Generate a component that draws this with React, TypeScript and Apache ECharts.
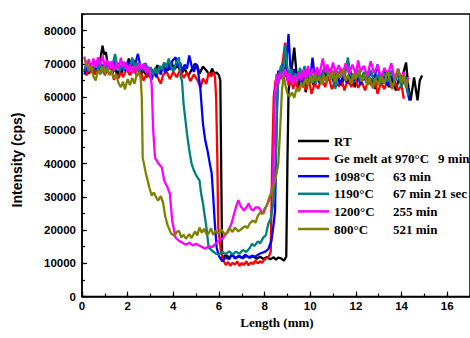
import React, { useEffect, useRef } from "react";
import * as echarts from "echarts";

const seriesNames = [
  "RT",
  "Ge melt at 970°C  9 min",
  "1098°C 63 min",
  "1190°C 67 min 21 sec",
  "1200°C 255 min",
  "800°C 521 min",
];
const legendTemps = ["", "", "1098°C", "1190°C", "1200°C", "800°C"];
const legendTimes = ["", "", "63 min", "67 min 21 sec", "255 min", "521 min"];
const seriesColors = ["#000000", "#ff0000", "#0000ff", "#008080", "#ff00ff", "#808000"];

const rtData = [
[0.1,67500],[0.2,69200],[0.3,67000],[0.4,68600],[0.5,66800],[0.6,69400],[0.7,68000],[0.8,71200],[0.9,75500],[0.97,72800],[1.05,73500],[1.15,68200],[1.25,69600],[1.35,67400],[1.45,68600],[1.55,66600],[1.65,69200],[1.75,67200],[1.85,70600],[1.95,68400],[2.05,71600],[2.15,69000],[2.25,71200],[2.35,67600],[2.45,69200],[2.55,66400],[2.7,68200],[2.85,66000],[3.0,68800],[3.15,67000],[3.3,69600],[3.45,67400],[3.6,70200],[3.75,68000],[3.9,70600],[4.05,68400],[4.2,69600],[4.35,67000],[4.5,68600],[4.65,66400],[4.8,68200],[4.95,70000],[5.05,69500],[5.15,67000],[5.3,69200],[5.45,68000],[5.6,66600],[5.7,68600],[5.8,67000],[5.9,67400],[6.0,66600],[6.06,65000],[6.1,38000],[6.14,11500],[6.3,12500],[6.45,11800],[6.6,12400],[6.75,11600],[6.9,12200],[7.05,11500],[7.2,12300],[7.35,11700],[7.5,12100],[7.65,11400],[7.8,12000],[7.95,11300],[8.1,11900],[8.25,11200],[8.4,11800],[8.5,11100],[8.6,11700],[8.7,11600],[8.85,10800],[8.95,12000],[9.0,40000],[9.05,62000],[9.15,66500],[9.3,74900],[9.4,67000],[9.5,63000],[9.6,65500],[9.7,68000],[9.8,61500],[9.9,64500],[10.0,66500],[10.15,63500],[10.3,67000],[10.45,64500],[10.6,68500],[10.75,65000],[10.9,67500],[11.05,64000],[11.2,66500],[11.35,63500],[11.5,66000],[11.65,64000],[11.8,67000],[11.95,63000],[12.1,66000],[12.25,64500],[12.4,67500],[12.55,64000],[12.7,65500],[12.85,62500],[13.0,66000],[13.15,64000],[13.3,68000],[13.45,63000],[13.6,65500],[13.75,62000],[13.9,66000],[14.05,66500],[14.2,70400],[14.3,63000],[14.4,59000],[14.55,65900],[14.7,59000],[14.8,65000],[14.9,66500]
];

const geMeltData = [
[0.1,68500],[0.2,66500],[0.3,69000],[0.4,67500],[0.5,68800],[0.6,66800],[0.7,69500],[0.8,67200],[0.9,68600],[1.0,66600],[1.1,68200],[1.2,66800],[1.3,67800],[1.4,65200],[1.5,67000],[1.6,65600],[1.7,67600],[1.8,66000],[1.95,68400],[2.1,66600],[2.25,68800],[2.4,66400],[2.55,67800],[2.7,65000],[2.85,67200],[3.0,65800],[3.15,68000],[3.3,66200],[3.45,64000],[3.55,66600],[3.7,67800],[3.85,65400],[4.0,67600],[4.15,66000],[4.3,68200],[4.45,65800],[4.6,67400],[4.75,64800],[4.9,66800],[5.05,65200],[5.2,62900],[5.3,65600],[5.45,64000],[5.55,67400],[5.65,66200],[5.75,67400],[5.83,66000],[5.88,59000],[5.93,40900],[5.97,20800],[6.08,13800],[6.2,10800],[6.3,9500],[6.4,10400],[6.5,9300],[6.6,10200],[6.7,9600],[6.8,10600],[6.9,9200],[7.0,10100],[7.1,9500],[7.2,10600],[7.3,9400],[7.4,10300],[7.5,9800],[7.6,10800],[7.7,10000],[7.8,10600],[7.9,10200],[8.0,11200],[8.1,11600],[8.2,12300],[8.27,13500],[8.33,40000],[8.4,60000],[8.48,65000],[8.55,63500],[8.65,66000],[8.75,68500],[8.82,72000],[8.9,76400],[8.97,69000],[9.05,63500],[9.15,65500],[9.25,62500],[9.35,64800],[9.5,61800],[9.65,64500],[9.8,62200],[9.95,65200],[10.05,61000],[10.2,64000],[10.35,62600],[10.5,65800],[10.65,63000],[10.8,66200],[10.95,62400],[11.1,65000],[11.25,63200],[11.4,64600],[11.5,62000],[11.65,65400],[11.8,63000],[11.95,66000],[12.1,62800],[12.25,64800],[12.4,62000],[12.55,65200],[12.7,63400],[12.85,64600],[12.95,61000],[13.1,64400],[13.25,62400],[13.4,65600],[13.55,62800],[13.7,64800],[13.85,62000],[14.0,63600],[14.1,59500]
];

const c1098Data = [
[0.1,66800],[0.2,69000],[0.3,67600],[0.4,70200],[0.5,68200],[0.6,69800],[0.7,67400],[0.8,70600],[0.9,68800],[1.0,70400],[1.1,67800],[1.2,69600],[1.3,68400],[1.4,71000],[1.5,68800],[1.6,70200],[1.7,67600],[1.8,69400],[1.9,68000],[2.0,70600],[2.1,68600],[2.2,71400],[2.3,69200],[2.45,73000],[2.55,69400],[2.65,67800],[2.75,70200],[2.85,68400],[2.95,66800],[3.05,65200],[3.15,67800],[3.25,66000],[3.35,68400],[3.45,66800],[3.55,69600],[3.65,67400],[3.75,70200],[3.85,68200],[3.95,70800],[4.1,72000],[4.2,68800],[4.3,70400],[4.4,67800],[4.5,69800],[4.6,68600],[4.7,72500],[4.8,69400],[4.9,67600],[5.0,70000],[5.08,68000],[5.18,62900],[5.3,52000],[5.4,47000],[5.5,43900],[5.6,40000],[5.68,37200],[5.75,30000],[5.82,22000],[5.9,14700],[6.0,12200],[6.15,10600],[6.3,11800],[6.45,11200],[6.57,12900],[6.7,11400],[6.85,12200],[7.0,11600],[7.15,12600],[7.3,11800],[7.45,12300],[7.6,12000],[7.75,12800],[7.9,13200],[8.05,13600],[8.17,14400],[8.3,16800],[8.4,22000],[8.46,25900],[8.52,50000],[8.6,68000],[8.7,65500],[8.8,70000],[8.9,66000],[8.97,72000],[9.05,79000],[9.12,70000],[9.2,65000],[9.3,68500],[9.4,64800],[9.5,67600],[9.6,63800],[9.7,66800],[9.8,64600],[9.9,68200],[10.0,65400],[10.1,71900],[10.2,66000],[10.3,68400],[10.4,64200],[10.55,67200],[10.7,64800],[10.85,68600],[11.0,65200],[11.15,67800],[11.3,63800],[11.45,66600],[11.6,64400],[11.75,68000],[11.9,65000],[12.05,67400],[12.2,63600],[12.35,66200],[12.5,64000],[12.65,67800],[12.8,65200],[12.95,69800],[13.1,64600],[13.25,67000],[13.4,63400],[13.55,66400],[13.7,64200],[13.85,68400],[14.0,64000],[14.15,66400],[14.25,62000],[14.35,59000]
];

const c1190Data = [
[0.1,68000],[0.2,70400],[0.3,67600],[0.4,69800],[0.5,68200],[0.6,70800],[0.7,68600],[0.8,69800],[0.9,67400],[1.0,70200],[1.1,68000],[1.2,70600],[1.3,68400],[1.45,73000],[1.55,69400],[1.65,67800],[1.75,70000],[1.85,68200],[1.95,69800],[2.05,67600],[2.2,71900],[2.3,68800],[2.4,70400],[2.5,67800],[2.6,69600],[2.7,68000],[2.8,70200],[2.9,67400],[3.0,69000],[3.1,66600],[3.2,68800],[3.3,67000],[3.4,69400],[3.5,68200],[3.6,70400],[3.7,68800],[3.8,71600],[3.9,69200],[4.0,67600],[4.1,70000],[4.25,72000],[4.32,66000],[4.38,65000],[4.45,58000],[4.6,49000],[4.7,44000],[4.8,40000],[4.9,38000],[5.0,36500],[5.15,34900],[5.22,31000],[5.3,28000],[5.45,20800],[5.55,14700],[5.7,13800],[5.85,13000],[6.0,12600],[6.15,13400],[6.3,12800],[6.45,13600],[6.6,12700],[6.75,13500],[6.9,12900],[7.05,14000],[7.2,13400],[7.35,14600],[7.45,15900],[7.55,15200],[7.7,16600],[7.8,16000],[7.95,17800],[8.05,18400],[8.17,22000],[8.27,23500],[8.4,28900],[8.48,40000],[8.55,60000],[8.62,66000],[8.72,69500],[8.8,67000],[8.9,75500],[8.98,70000],[9.05,66000],[9.15,68400],[9.25,64600],[9.35,67200],[9.45,65000],[9.55,68800],[9.65,66000],[9.75,69400],[9.85,65600],[9.95,67800],[10.05,64400],[10.15,66800],[10.25,64000],[10.35,67400],[10.5,65400],[10.65,69200],[10.8,66200],[10.95,68000],[11.1,62500],[11.2,66400],[11.35,68600],[11.5,65600],[11.65,71900],[11.75,67000],[11.9,65200],[12.05,68400],[12.2,64800],[12.35,67600],[12.5,65000],[12.65,68200],[12.8,64400],[12.95,66800],[13.1,63800],[13.25,67200],[13.4,64600],[13.55,68000],[13.7,65000],[13.85,66600],[14.0,63000],[14.15,66200],[14.3,60500]
];

const c1200Data = [
[0.1,72200],[0.2,69000],[0.3,71400],[0.4,68200],[0.5,71600],[0.6,68800],[0.7,72000],[0.8,69400],[0.9,72600],[1.0,69000],[1.1,71200],[1.2,68400],[1.3,70800],[1.4,67800],[1.5,70400],[1.6,68400],[1.7,71800],[1.8,69000],[1.9,70400],[2.0,67600],[2.1,69800],[2.2,67200],[2.3,69400],[2.4,67800],[2.5,70200],[2.6,68600],[2.7,70000],[2.8,67400],[2.9,69200],[2.98,66800],[3.05,64000],[3.12,50000],[3.2,41800],[3.35,40000],[3.5,38800],[3.6,34900],[3.75,32800],[3.85,31000],[3.95,22900],[4.1,17700],[4.25,16800],[4.4,16200],[4.55,15600],[4.7,16200],[4.85,15400],[5.0,15900],[5.15,15300],[5.3,14800],[5.4,14400],[5.55,15200],[5.7,14900],[5.85,15900],[6.0,16800],[6.15,17400],[6.3,18900],[6.4,19500],[6.55,22000],[6.65,24500],[6.75,27000],[6.85,29000],[6.95,27200],[7.1,25900],[7.2,26800],[7.3,28000],[7.4,26400],[7.5,25900],[7.6,26800],[7.75,26800],[7.85,25600],[7.95,25000],[8.05,26800],[8.2,29000],[8.3,31500],[8.37,35000],[8.45,60000],[8.52,67000],[8.6,64000],[8.7,67500],[8.8,65000],[8.9,68500],[9.0,64800],[9.1,67200],[9.2,63800],[9.3,66600],[9.4,64200],[9.5,67400],[9.6,65000],[9.7,68200],[9.8,65600],[9.9,69400],[10.0,66000],[10.1,68600],[10.2,65400],[10.3,69000],[10.4,66600],[10.55,71600],[10.65,67400],[10.75,69800],[10.85,66200],[11.0,70400],[11.1,67000],[11.25,69600],[11.4,66400],[11.55,70200],[11.7,67000],[11.85,69800],[12.0,66800],[12.1,71000],[12.2,67600],[12.35,69400],[12.5,66400],[12.65,70800],[12.8,67200],[12.95,69600],[13.1,65800],[13.25,68800],[13.4,66600],[13.55,70200],[13.7,65400],[13.85,68600],[14.0,64800],[14.1,67600],[14.2,63000],[14.3,66000]
];

const c800Data = [
[0.1,71600],[0.2,70400],[0.3,68000],[0.4,69600],[0.5,66200],[0.6,65000],[0.7,68400],[0.8,66800],[0.9,69200],[1.0,67000],[1.1,68600],[1.2,66600],[1.3,68000],[1.4,65600],[1.5,66800],[1.6,64200],[1.7,63000],[1.8,64600],[1.88,62300],[2.0,65400],[2.1,63600],[2.2,65800],[2.3,64000],[2.4,66800],[2.5,67400],[2.57,65800],[2.62,60000],[2.66,41800],[2.8,37000],[2.95,32800],[3.05,30400],[3.15,31300],[3.25,29800],[3.33,28900],[3.45,30200],[3.55,28300],[3.65,24000],[3.75,21500],[3.9,19000],[4.05,18300],[4.15,19400],[4.25,19800],[4.35,17800],[4.45,18600],[4.55,17400],[4.7,18800],[4.8,17600],[4.95,19600],[5.05,18400],[5.15,20800],[5.25,19200],[5.35,20400],[5.45,18800],[5.55,19000],[5.65,20600],[5.75,18600],[5.85,19800],[6.0,18900],[6.1,20200],[6.2,19200],[6.3,18600],[6.45,20600],[6.6,19400],[6.7,20800],[6.85,19600],[7.0,20400],[7.15,21200],[7.25,20600],[7.35,22000],[7.5,22900],[7.6,22200],[7.7,24200],[7.8,25300],[7.9,24800],[8.0,26400],[8.1,27400],[8.2,29800],[8.3,31000],[8.42,34000],[8.5,36000],[8.6,40000],[8.68,50000],[8.76,62000],[8.84,66500],[8.92,63500],[9.0,61000],[9.1,60200],[9.2,61400],[9.3,59800],[9.4,62600],[9.5,61800],[9.6,64400],[9.7,62800],[9.8,65600],[9.9,63600],[10.0,66400],[10.1,64200],[10.2,67200],[10.3,64800],[10.4,66000],[10.5,63800],[10.6,66800],[10.7,64400],[10.8,67600],[10.9,65200],[11.0,68000],[11.1,64600],[11.2,67400],[11.3,65800],[11.45,68400],[11.55,64800],[11.65,66600],[11.8,64000],[11.9,67200],[12.0,65400],[12.15,68200],[12.25,64600],[12.4,66800],[12.5,63400],[12.6,66000],[12.75,62600],[12.85,65600],[13.0,63600],[13.1,66400],[13.25,64000],[13.4,67800],[13.5,65200],[13.6,62400],[13.75,66200],[13.85,68400],[14.0,64400],[14.1,66800],[14.2,62800],[14.3,65400]
];

const allData = [rtData, geMeltData, c1098Data, c1190Data, c1200Data, c800Data];

const SANS = "'Liberation Sans', Arial, sans-serif";
const SERIF = "'Liberation Serif', 'Times New Roman', serif";

export default function App() {
  const ref = useRef<HTMLDivElement>(null);
  useEffect(() => {
    if (!ref.current) return;
    const chart = echarts.init(ref.current, null, { renderer: "svg" });
    const tickLabel = {
      color: "#000",
      fontFamily: SANS,
      fontWeight: "bold",
      fontSize: 11.5,
      formatter: (v: number) => String(v),
    };
    const richBase = {
      fontFamily: SERIF,
      fontWeight: "bold",
      fontSize: 13,
      lineHeight: 14,
      color: "#000",
    };
    const option = {
      animation: false,
      grid: {
        left: 82,
        top: 14,
        width: 391,
        height: 282.6,
        show: true,
        borderColor: "#000",
        borderWidth: 1.5,
        backgroundColor: "transparent",
      },
      xAxis: [
        {
          type: "value",
          min: 0,
          max: 17,
          interval: 2,
          axisLine: { lineStyle: { color: "#000", width: 1.5 } },
          axisTick: { inside: true, length: 5, lineStyle: { color: "#000", width: 1.2 } },
          axisLabel: { ...tickLabel, margin: 3, showMaxLabel: false },
          splitLine: { show: false },
        },
        {
          type: "value",
          min: 0,
          max: 17,
          interval: 1,
          position: "bottom",
          axisLine: { show: false },
          axisTick: { inside: true, length: 3, lineStyle: { color: "#000", width: 1.2 } },
          axisLabel: { show: false },
          splitLine: { show: false },
        },
      ],
      yAxis: [
        {
          type: "value",
          min: 0,
          max: 85000,
          interval: 10000,
          axisLine: { show: true, lineStyle: { color: "#000", width: 1.5 } },
          axisTick: { show: true, inside: true, length: 5, lineStyle: { color: "#000", width: 1.2 } },
          axisLabel: { ...tickLabel, margin: 6, showMaxLabel: false },
          splitLine: { show: false },
        },
        {
          type: "value",
          min: 0,
          max: 85000,
          interval: 5000,
          position: "left",
          axisLine: { show: false },
          axisTick: { show: true, inside: true, length: 3, lineStyle: { color: "#000", width: 1.2 } },
          axisLabel: { show: false },
          splitLine: { show: false },
        },
      ],
      legend: {
        orient: "vertical",
        left: 293,
        top: 129,
        itemWidth: 31,
        itemHeight: 2.5,
        itemGap: 3.6,
        icon: "rect",
        selectedMode: false,
        data: seriesNames,
        formatter: (name: string) => {
          const i = seriesNames.indexOf(name);
          if (legendTemps[i]) return `{a|${legendTemps[i]}}{b|${legendTimes[i]}}`;
          if (i === 1) return `{b|Ge melt at 970°C}{p|9 min}`;
          return `{b|${name}}`;
        },
        textStyle: {
          ...richBase,
          rich: {
            a: { ...richBase, width: 59 },
            b: { ...richBase },
            p: { ...richBase, padding: [0, 0, 0, 9] },
          },
        },
      },
      graphic: [
        {
          type: "text",
          x: 16.5,
          y: 160,
          rotation: Math.PI / 2,
          style: {
            text: "Intensity (cps)",
            fill: "#000",
            font: `bold 14px ${SANS}`,
            align: "center",
            verticalAlign: "middle",
          },
        },
        {
          type: "text",
          x: 277,
          y: 322.5,
          style: {
            text: "Length (mm)",
            fill: "#000",
            font: `bold 13px ${SERIF}`,
            align: "center",
            verticalAlign: "middle",
          },
        },
      ],
      series: allData.map((d, i) => ({
        name: seriesNames[i],
        type: "line",
        data: d,
        showSymbol: false,
        symbol: "none",
        color: seriesColors[i],
        lineStyle: { color: seriesColors[i], width: 2.3 },
        xAxisIndex: 0,
        yAxisIndex: 0,
      })),
    };
    chart.setOption(option as any);
    return () => chart.dispose();
  }, []);
  return (
    <div
      ref={ref}
      style={{ position: "fixed", left: 0, top: 0, width: 470, height: 338, background: "#fff" }}
    />
  );
}
